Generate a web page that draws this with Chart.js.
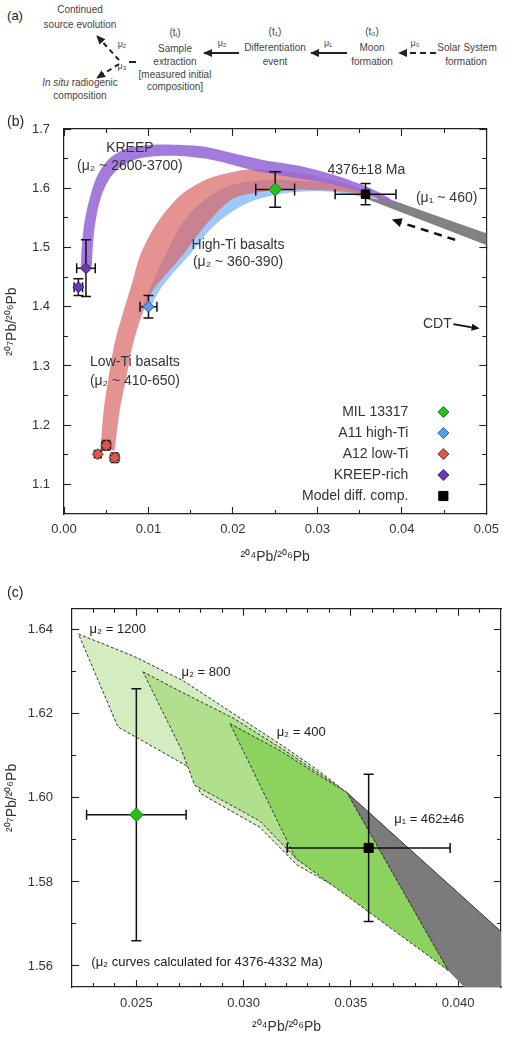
<!DOCTYPE html>
<html><head><meta charset="utf-8">
<script src="https://cdn.jsdelivr.net/npm/chart.js@4.4.1/dist/chart.umd.min.js"></script>
<style>
html,body{margin:0;padding:0;background:#fff;}
body{width:514px;height:1040px;position:relative;overflow:hidden;font-family:"Liberation Sans",Arial,sans-serif;}
#pa{position:absolute;left:0;top:0;width:514px;height:100px;}
.t{position:absolute;transform:translate(-50%,-50%);white-space:nowrap;font-size:10px;color:#444;line-height:1;}
canvas{position:absolute;left:0;}
</style></head><body>
<div id="pa">
<svg width="514" height="100" style="position:absolute;left:0;top:0">
<defs><marker id="ah" markerWidth="9" markerHeight="8" refX="8" refY="4" orient="auto" markerUnits="userSpaceOnUse"><path d="M0,0 L9,4 L0,8 Z" fill="#222"/></marker></defs>
<line x1="239" y1="53" x2="204" y2="53" stroke="#222" stroke-width="2" marker-end="url(#ah)"/>
<line x1="347" y1="53" x2="311" y2="53" stroke="#222" stroke-width="2" marker-end="url(#ah)"/>
<line x1="436" y1="53" x2="399" y2="53" stroke="#222" stroke-width="2" stroke-dasharray="6,4" marker-end="url(#ah)"/>
<line x1="136" y1="62" x2="129" y2="62" stroke="#222" stroke-width="2"/>
<line x1="119" y1="60" x2="97" y2="36" stroke="#222" stroke-width="2" stroke-dasharray="5,4" marker-end="url(#ah)"/>
<line x1="119" y1="64" x2="97" y2="78" stroke="#222" stroke-width="2" stroke-dasharray="5,4" marker-end="url(#ah)"/>
</svg>
<div class="t" style="left:15px;top:15px;font-size:13px;color:#222">(a)</div>
<div class="t" style="left:80px;top:10px">Continued</div>
<div class="t" style="left:80px;top:25px">source evolution</div>
<div class="t" style="left:80px;top:83px"><i>In situ</i> radiogenic</div>
<div class="t" style="left:80px;top:96px">composition</div>
<div class="t" style="left:122px;top:44px;font-size:9px">μ₂</div>
<div class="t" style="left:122px;top:66px;font-size:9px">μ₃</div>
<div class="t" style="left:175px;top:33px">(tᵢ)</div>
<div class="t" style="left:175px;top:49px">Sample</div>
<div class="t" style="left:175px;top:62px">extraction</div>
<div class="t" style="left:175px;top:75px">[measured initial</div>
<div class="t" style="left:175px;top:87px">composition]</div>
<div class="t" style="left:222px;top:43px;font-size:9px">μ₂</div>
<div class="t" style="left:275px;top:32px">(t₁)</div>
<div class="t" style="left:275px;top:48px">Differentiation</div>
<div class="t" style="left:275px;top:62px">event</div>
<div class="t" style="left:328px;top:43px;font-size:9px">μ₁</div>
<div class="t" style="left:372px;top:32px">(t₀)</div>
<div class="t" style="left:372px;top:48px">Moon</div>
<div class="t" style="left:372px;top:62px">formation</div>
<div class="t" style="left:415px;top:43px;font-size:9px">μ₀</div>
<div class="t" style="left:467px;top:48px">Solar System</div>
<div class="t" style="left:466px;top:62px">formation</div>
</div>
<canvas id="cb" width="514" height="470" style="top:100px"></canvas>
<canvas id="cc" width="514" height="465" style="top:575px"></canvas>
<script>
// ================= Panel (b) data =================
const bXTicks = [0.00, 0.01, 0.02, 0.03, 0.04, 0.05];
const bXTickLabels = ['0.00', '0.01', '0.02', '0.03', '0.04', '0.05'];
const bXMinor = [0.005, 0.015, 0.025, 0.035, 0.045];
const bYTicks = [1.1, 1.2, 1.3, 1.4, 1.5, 1.6, 1.7];
const bYTickLabels = ['1.1', '1.2', '1.3', '1.4', '1.5', '1.6', '1.7'];
const bYMinor = [1.15, 1.25, 1.35, 1.45, 1.55, 1.65];

const seriesNames = ['MIL 13317', 'A11 high-Ti', 'A12 low-Ti', 'KREEP-rich', 'Model diff. comp.'];
const milX = [0.0250], milY = [1.598], milXErr = [0.0023], milYErr = [0.030];
const a11X = [0.0100], a11Y = [1.400], a11XErr = [0.0010], a11YErr = [0.019];
const a12X = [0.0040, 0.0050, 0.0060], a12Y = [1.151, 1.166, 1.145], a12XErr = [0.0004, 0.0005, 0.0005], a12YErr = [0.006, 0.008, 0.008];
const kreepX = [0.0026, 0.0017], kreepY = [1.465, 1.433], kreepXErr = [0.0011, 0.0005], kreepYErr = [0.048, 0.014];
const modelX = [0.0357], modelY = [1.590], modelXErr = [0.0036], modelYErr = [0.018];

// growth-curve bands (outer edge then inner edge, as [x, y])
const kreepBandOuter = [[0.0020,1.468],[0.0021,1.500],[0.0024,1.541],[0.0030,1.581],[0.0039,1.620],[0.0053,1.649],[0.0072,1.666],[0.0102,1.673],[0.0140,1.673],[0.0167,1.670],[0.0198,1.660],[0.0239,1.647],[0.0278,1.638],[0.0316,1.624],[0.0356,1.604],[0.0384,1.584],[0.0393,1.572]];
const kreepBandInner = [[0.0362,1.590],[0.0316,1.607],[0.0259,1.621],[0.0224,1.630],[0.0198,1.640],[0.0167,1.650],[0.0129,1.655],[0.0091,1.651],[0.0068,1.637],[0.0053,1.614],[0.0043,1.581],[0.0037,1.541],[0.0034,1.500],[0.0033,1.468]];
const redBandOuter = [[0.0043,1.157],[0.0047,1.225],[0.0053,1.282],[0.0060,1.339],[0.0070,1.390],[0.0081,1.442],[0.0091,1.490],[0.0110,1.541],[0.0137,1.587],[0.0167,1.614],[0.0198,1.627],[0.0224,1.632],[0.0278,1.626],[0.0335,1.607],[0.0358,1.593],[0.0386,1.577]];
const redBandInner = [[0.0356,1.589],[0.0316,1.596],[0.0259,1.597],[0.0224,1.592],[0.0201,1.583],[0.0186,1.566],[0.0163,1.530],[0.0142,1.490],[0.0121,1.455],[0.0104,1.425],[0.0092,1.385],[0.0081,1.333],[0.0074,1.282],[0.0066,1.225],[0.0060,1.157]];
const blueBandOuter = [[0.0101,1.395],[0.0112,1.425],[0.0128,1.455],[0.0150,1.490],[0.0173,1.530],[0.0197,1.5585],[0.0224,1.579],[0.0259,1.591],[0.0290,1.595],[0.0316,1.594],[0.0356,1.585],[0.0372,1.581]];
const blueBandInner = [[0.0356,1.596],[0.0316,1.608],[0.0259,1.614],[0.0224,1.612],[0.0194,1.603],[0.0167,1.581],[0.0140,1.541],[0.0121,1.490],[0.0106,1.445],[0.0093,1.400]];
const grayBandB = [[0.0340,1.604],[0.0520,1.514],[0.0520,1.493],[0.0340,1.592]];

// ================= Panel (c) data =================
const cXTicks = [0.025, 0.030, 0.035, 0.040];
const cXTickLabels = ['0.025', '0.030', '0.035', '0.040'];
const cXMinor = [0.023,0.024,0.026,0.027,0.028,0.029,0.031,0.032,0.033,0.034,0.036,0.037,0.038,0.039,0.041];
const cYTicks = [1.56, 1.58, 1.60, 1.62, 1.64];
const cYTickLabels = ['1.56', '1.58', '1.60', '1.62', '1.64'];
const cYMinor = [1.57, 1.59, 1.61, 1.63];

const milCX = [0.0250], milCY = [1.596], milCXErr = [0.00232], milCYErr = [0.030];
const modelCX = [0.03583], modelCY = [1.5881], modelCXErr = [0.0038], modelCYErr = [0.0175];

const mu1200Poly = [[0.0223,1.6390],[0.02484,1.6338],[0.02718,1.6279],[0.02951,1.6201],[0.03185,1.6123],[0.03341,1.6068],[0.03481,1.6013],[0.03953,1.5590],[0.03606,1.5738],[0.03250,1.5840],[0.03076,1.5930],[0.0280,1.6010],[0.02749,1.6072],[0.02414,1.6169],[0.0223,1.6390]];
const mu800Poly = [[0.02531,1.6300],[0.02718,1.6250],[0.02951,1.6190],[0.03185,1.6115],[0.03341,1.6062],[0.03481,1.6013],[0.03953,1.5590],[0.03606,1.5745],[0.03250,1.5853],[0.03076,1.5945],[0.02772,1.6030],[0.0271,1.6115],[0.02531,1.6300]];
const mu400Poly = [[0.02936,1.6177],[0.03185,1.6108],[0.03341,1.6057],[0.03481,1.6013],[0.03953,1.5590],[0.03243,1.5856],[0.02936,1.6177]];
const grayBandC = [[0.03481,1.6013],[0.0430,1.5636],[0.0430,1.5500],[0.0412,1.5500],[0.03953,1.5590],[0.03481,1.6013]];
const grayEdgeC = [[0.03481,1.6013],[0.0430,1.5636]];

// ================= helpers =================
Chart.defaults.font.family = '"Liberation Sans", Arial, sans-serif';
Chart.defaults.color = '#333';
const FONT = '"Liberation Sans", Arial, sans-serif';
const pts = (xs, ys) => xs.map((x, i) => ({x, y: ys[i]}));
const poly = arr => arr.map(([x, y]) => ({x, y}));

function mkScales(o) {
  const tk = list => s => { s.ticks = list.map(v => ({value: v})); };
  const grid = len => ({drawOnChartArea: false, drawTicks: true, tickLength: len, tickColor: '#222', tickWidth: 1.1});
  const base = (pos, range, weight) => ({type: 'linear', position: pos, min: range[0], max: range[1], weight});
  const noLab = {display: false};
  const bord = {display: true, color: '#222', width: 1.2};
  return {
    x: {...base('bottom', o.xr, 1), ticks: {autoSkip: false, maxRotation: 0, padding: o.xPad, color: '#333', font: {size: 13}, callback: (v, i) => o.xLab[i]},
        afterBuildTicks: tk(o.xMaj), grid: grid(-7), border: bord,
        title: {display: true, text: '²⁰⁴Pb/²⁰⁶Pb', color: '#333', font: {size: 14}, padding: {top: 0, bottom: 4}},
        afterFit: s => { s.height = o.xH; }},
    xm: {...base('bottom', o.xr, 0), ticks: noLab, afterBuildTicks: tk(o.xMin), grid: grid(-4), border: {display: false}, afterFit: s => { s.height = 0; }},
    xt: {...base('top', o.xr, 1), ticks: noLab, afterBuildTicks: tk(o.xMaj), grid: grid(-7), border: bord, afterFit: s => { s.height = 0; }},
    xtm: {...base('top', o.xr, 0), ticks: noLab, afterBuildTicks: tk(o.xMin), grid: grid(-4), border: {display: false}, afterFit: s => { s.height = 0; }},
    y: {...base('left', o.yr, 1), ticks: {autoSkip: false, padding: o.yPad, color: '#333', font: {size: 13}, callback: (v, i) => o.yLab[i]},
        afterBuildTicks: tk(o.yMaj), grid: grid(-7), border: bord,
        title: {display: true, text: '²⁰⁷Pb/²⁰⁶Pb', color: '#333', font: {size: 14}, padding: {top: 4, bottom: 0}},
        afterFit: s => { s.width = o.yW; }},
    ym: {...base('left', o.yr, 0), ticks: noLab, afterBuildTicks: tk(o.yMin), grid: grid(-4), border: {display: false}, afterFit: s => { s.width = 0; }},
    yr: {...base('right', o.yr, 1), ticks: noLab, afterBuildTicks: tk(o.yMaj), grid: grid(-7), border: bord, afterFit: s => { s.width = 0; }},
    yrm: {...base('right', o.yr, 0), ticks: noLab, afterBuildTicks: tk(o.yMin), grid: grid(-4), border: {display: false}, afterFit: s => { s.width = 0; }}
  };
}

const errorBarPlugin = {
  id: 'errbars',
  beforeDatasetDraw(chart, args) {
    const ds = chart.data.datasets[args.index];
    if (!ds.xErr) return;
    const ctx = chart.ctx, xs = chart.scales.x, ys = chart.scales.y;
    const cap = ds.errCap || 5;
    ctx.save();
    ctx.strokeStyle = '#111';
    ctx.lineWidth = ds.errWidth || 1.5;
    ds.data.forEach((p, i) => {
      const px = xs.getPixelForValue(p.x), py = ys.getPixelForValue(p.y);
      const x0 = xs.getPixelForValue(p.x - ds.xErr[i]), x1 = xs.getPixelForValue(p.x + ds.xErr[i]);
      const y0 = ys.getPixelForValue(p.y - ds.yErr[i]), y1 = ys.getPixelForValue(p.y + ds.yErr[i]);
      ctx.beginPath();
      ctx.moveTo(x0, py); ctx.lineTo(x1, py);
      ctx.moveTo(px, y0); ctx.lineTo(px, y1);
      ctx.moveTo(x0, py - cap); ctx.lineTo(x0, py + cap);
      ctx.moveTo(x1, py - cap); ctx.lineTo(x1, py + cap);
      ctx.moveTo(px - cap, y0); ctx.lineTo(px + cap, y0);
      ctx.moveTo(px - cap, y1); ctx.lineTo(px + cap, y1);
      ctx.stroke();
    });
    ctx.restore();
  }
};

function textPlugin(id, items) {
  return {id, afterDatasetsDraw(chart) {
    const ctx = chart.ctx, xs = chart.scales.x, ys = chart.scales.y;
    ctx.save();
    items.forEach(t => {
      ctx.font = `${t.size}px ${FONT}`;
      ctx.fillStyle = t.color;
      ctx.textAlign = t.align;
      ctx.textBaseline = 'middle';
      ctx.fillText(t.text, xs.getPixelForValue(t.x), ys.getPixelForValue(t.y));
    });
    ctx.restore();
  }};
}

function arrowPlugin(id, arrows) {
  return {id, afterDatasetsDraw(chart) {
    const ctx = chart.ctx, xs = chart.scales.x, ys = chart.scales.y;
    arrows.forEach(a => {
      const x0 = xs.getPixelForValue(a.from[0]), y0 = ys.getPixelForValue(a.from[1]);
      const x1 = xs.getPixelForValue(a.to[0]), y1 = ys.getPixelForValue(a.to[1]);
      const ang = Math.atan2(y1 - y0, x1 - x0);
      const hl = a.head, hw = a.head * 0.45;
      const bx = x1 - hl * Math.cos(ang), by = y1 - hl * Math.sin(ang);
      ctx.save();
      ctx.strokeStyle = '#111'; ctx.fillStyle = '#111'; ctx.lineWidth = a.width;
      ctx.setLineDash(a.dash || []);
      ctx.beginPath(); ctx.moveTo(x0, y0); ctx.lineTo(bx, by); ctx.stroke();
      ctx.setLineDash([]);
      ctx.beginPath(); ctx.moveTo(x1, y1);
      ctx.lineTo(bx - hw * Math.sin(ang), by + hw * Math.cos(ang));
      ctx.lineTo(bx + hw * Math.sin(ang), by - hw * Math.cos(ang));
      ctx.closePath(); ctx.fill();
      ctx.restore();
    });
  }};
}

function panelLabel(id, text, px, py) {
  return {id, afterDraw(chart) {
    const ctx = chart.ctx;
    ctx.save();
    ctx.font = `14px ${FONT}`; ctx.fillStyle = '#222'; ctx.textAlign = 'left'; ctx.textBaseline = 'middle';
    ctx.fillText(text, px, py);
    ctx.restore();
  }};
}

const legendPlugin = {
  id: 'legendB',
  afterDraw(chart) {
    const ctx = chart.ctx, ca = chart.chartArea;
    const items = chart.data.datasets.filter(d => d.legendRow !== undefined).sort((a, b) => a.legendRow - b.legendRow);
    ctx.save();
    items.forEach(d => {
      const yy = ca.bottom - 102 + d.legendRow * 21;
      ctx.font = `14px ${FONT}`; ctx.fillStyle = '#333'; ctx.textAlign = 'right'; ctx.textBaseline = 'middle';
      ctx.fillText(d.label, ca.right - 78, yy);
      ctx.fillStyle = d.backgroundColor; ctx.strokeStyle = d.borderColor; ctx.lineWidth = 1;
      Chart.helpers.drawPoint(ctx, {pointStyle: d.pointStyle, radius: d.pointStyle === 'rect' ? 6.5 : 5.5, borderWidth: 1, rotation: 0}, ca.right - 43, yy);
    });
    ctx.restore();
  }
};

function band(data, color, order, tension) {
  return {data: poly(data), showLine: true, fill: 'shape', backgroundColor: color, borderColor: 'rgba(0,0,0,0)', borderWidth: 0,
          pointRadius: 0, pointHoverRadius: 0, tension: tension, order};
}
function marker(name, xs, ys, xe, ye, style, r, fillC, edgeC, row, order, cap) {
  return {label: name, data: pts(xs, ys), pointStyle: style, pointRadius: r, pointHoverRadius: r, backgroundColor: fillC, borderColor: edgeC,
          borderWidth: 1, xErr: xe, yErr: ye, errCap: cap, legendRow: row, order};
}

// ================= Chart (b) =================
const bTexts = [
  {text: 'KREEP', x: 0.0078, y: 1.667, size: 14, color: '#333', align: 'center'},
  {text: '(μ₂ ~ 2600-3700)', x: 0.0078, y: 1.637, size: 14, color: '#333', align: 'center'},
  {text: '4376±18 Ma', x: 0.0358, y: 1.631, size: 14, color: '#333', align: 'center'},
  {text: '(μ₁ ~ 460)', x: 0.0453, y: 1.584, size: 14, color: '#333', align: 'center'},
  {text: 'High-Ti basalts', x: 0.0206, y: 1.504, size: 14, color: '#333', align: 'center'},
  {text: '(μ₂ ~ 360-390)', x: 0.0206, y: 1.476, size: 14, color: '#333', align: 'center'},
  {text: 'Low-Ti basalts', x: 0.0084, y: 1.307, size: 14, color: '#333', align: 'center'},
  {text: '(μ₂ ~ 410-650)', x: 0.0084, y: 1.275, size: 14, color: '#333', align: 'center'},
  {text: 'CDT', x: 0.0459, y: 1.3705, size: 14, color: '#333', align: 'right'}
];
const bArrows = [
  {from: [0.0463, 1.513], to: [0.0388, 1.547], head: 10, width: 2.5, dash: [8, 6]},
  {from: [0.0461, 1.3705], to: [0.0492, 1.363], head: 8, width: 1.8}
];

new Chart(document.getElementById('cb'), {
  type: 'scatter',
  data: {datasets: [
    band(grayBandB, '#828282', 30, 0),
    band(blueBandOuter.concat(blueBandInner), 'rgb(158,200,250)', 29, 0.3),
    band(redBandOuter.concat(redBandInner), 'rgba(218,100,100,0.7)', 28, 0.3),
    band(kreepBandOuter.concat(kreepBandInner), 'rgba(150,105,215,0.88)', 27, 0.3),
    marker(seriesNames[2], a12X, a12Y, a12XErr, a12YErr, 'rectRot', 5.5, '#d9574f', '#8a2a25', 2, 5, 4),
    marker(seriesNames[3], kreepX, kreepY, kreepXErr, kreepYErr, 'rectRot', 5.5, '#6a38b2', '#3c1c70', 3, 4, 5),
    marker(seriesNames[1], a11X, a11Y, a11XErr, a11YErr, 'rectRot', 5.5, '#559ff0', '#2a5f9a', 1, 3, 5),
    marker(seriesNames[4], modelX, modelY, modelXErr, modelYErr, 'rect', 6, '#000', '#000', 4, 2, 5),
    marker(seriesNames[0], milX, milY, milXErr, milYErr, 'rectRot', 6.5, '#22c41c', '#137a10', 0, 1, 6)
  ]},
  options: {
    responsive: false, animation: false, devicePixelRatio: 1,
    layout: {padding: {top: 29, right: 13, left: 0, bottom: 0}},
    plugins: {legend: {display: false}, tooltip: {enabled: false}},
    scales: mkScales({xr: [0, 0.05], yr: [1.05, 1.70], xMaj: bXTicks, xMin: bXMinor, yMaj: bYTicks, yMin: bYMinor,
                      xLab: bXTickLabels, yLab: bYTickLabels, xH: 56, yW: 64, xPad: 15, yPad: 21})
  },
  plugins: [errorBarPlugin, textPlugin('txtB', bTexts), arrowPlugin('arrB', bArrows), legendPlugin, panelLabel('lblB', '(b)', 7, 22)]
});

// ================= Chart (c) =================
const cTexts = [
  {text: 'μ₂ = 1200', x: 0.02282, y: 1.6400, size: 13, color: '#222', align: 'left'},
  {text: 'μ₂ = 800', x: 0.0271, y: 1.6299, size: 13, color: '#222', align: 'left'},
  {text: 'μ₂ = 400', x: 0.03154, y: 1.6155, size: 13, color: '#222', align: 'left'},
  {text: 'μ₁ = 462±46', x: 0.03702, y: 1.5949, size: 13, color: '#222', align: 'left'},
  {text: '(μ₂ curves calculated for 4376-4332 Ma)', x: 0.0229, y: 1.5608, size: 13, color: '#222', align: 'left'}
];
function outline(data, color, order) {
  return {data: poly(data), showLine: true, fill: 'shape', backgroundColor: color, borderColor: '#333', borderWidth: 1, borderDash: [3, 2],
          pointRadius: 0, pointHoverRadius: 0, tension: 0, order};
}
new Chart(document.getElementById('cc'), {
  type: 'scatter',
  data: {datasets: [
    band(grayBandC, '#7b7b7b', 30, 0),
    {data: poly(grayEdgeC), showLine: true, fill: false, borderColor: '#333', borderWidth: 1, pointRadius: 0, order: 29},
    outline(mu1200Poly, '#d3ecc0', 28),
    outline(mu800Poly, '#b0df8d', 27),
    outline(mu400Poly, '#8bd25e', 26),
    marker('Model diff. comp.', modelCX, modelCY, modelCXErr, modelCYErr, 'rect', 6.4, '#000', '#000', undefined, 2, 5),
    marker('MIL 13317', milCX, milCY, milCXErr, milCYErr, 'rectRot', 6.7, '#22c41c', '#137a10', undefined, 1, 5)
  ]},
  options: {
    responsive: false, animation: false, devicePixelRatio: 1,
    layout: {padding: {top: 28, right: 13, left: 0, bottom: 0}},
    plugins: {legend: {display: false}, tooltip: {enabled: false}},
    scales: mkScales({xr: [0.022, 0.042], yr: [1.555, 1.645], xMaj: cXTicks, xMin: cXMinor, yMaj: cYTicks, yMin: cYMinor,
                      xLab: cXTickLabels, yLab: cYTickLabels, xH: 53, yW: 72, xPad: 15.5, yPad: 26})
  },
  plugins: [errorBarPlugin, textPlugin('txtC', cTexts), panelLabel('lblC', '(c)', 7, 18)]
});
</script>
</body></html>
